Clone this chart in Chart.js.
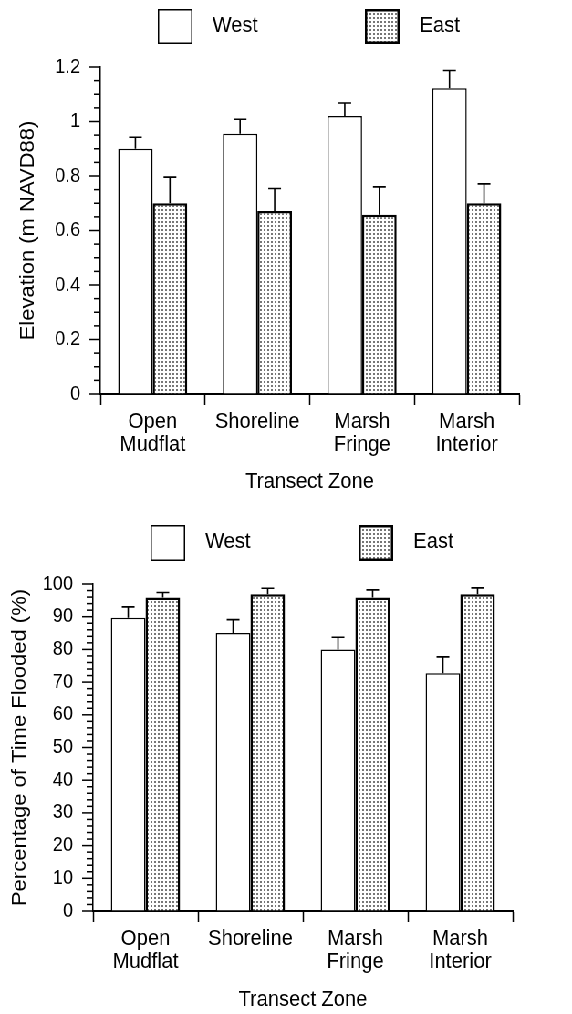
<!DOCTYPE html>
<html>
<head>
<meta charset="utf-8">
<script src="https://cdn.jsdelivr.net/npm/chart.js@4.4.1/dist/chart.umd.min.js"></script>
<style>
  html, body { margin: 0; padding: 0; background: #fff; overflow: hidden; }
  #page { width: 572px; height: 1014px; overflow: hidden; }
  /* the figure is laid out 627px wide and squeezed to the 572px page */
  #figure { width: 627px; transform: scaleX(0.9123); transform-origin: 0 0; }
  .box { position: relative; width: 627px; }
  #topBox { height: 500px; }
  #bottomBox { height: 514px; }
</style>
</head>
<body>
<div id="page"><div id="figure">
  <div class="box" id="topBox"><canvas id="elevChart"></canvas></div>
  <div class="box" id="bottomBox"><canvas id="floodChart"></canvas></div>
</div></div>
<script>
// ---- data ----
const zones = [['Open', 'Mudflat'], 'Shoreline', ['Marsh', 'Fringe'], ['Marsh', 'Interior']];
const seriesNames = ['West', 'East'];

const elevWest    = [0.90, 0.955, 1.02, 1.122];
const elevWestErr = [0.042, 0.053, 0.048, 0.065];
const elevEast    = [0.70, 0.672, 0.658, 0.70];
const elevEastErr = [0.096, 0.082, 0.102, 0.071];

const floodWest    = [89.7, 85.0, 80.0, 72.7];
const floodWestErr = [3.3, 4.1, 3.7, 5.0];
const floodEast    = [95.9, 96.9, 95.9, 96.9];
const floodEastErr = [1.5, 1.8, 2.3, 1.9];

const elevTicks = { min: 0, max: 1.2, minor: 0.05, major: 0.2 };
const floodTicks = { min: 0, max: 100, minor: 2, major: 10 };

Chart.defaults.font.family = "'Liberation Sans', Arial, sans-serif";
Chart.defaults.color = '#000';

const FONT = "'Liberation Sans', Arial, sans-serif";

// stipple fill for the East bars
function stipple(canvas) {
    const tile = document.createElement('canvas');
    tile.width = 4; tile.height = 4;
    const g = tile.getContext('2d');
    g.fillStyle = '#fff';
    g.fillRect(0, 0, 4, 4);
    g.fillStyle = '#777';
    g.fillRect(1, 1, 2, 2);
    return canvas.getContext('2d').createPattern(tile, 'repeat');
}

// ============ plugins ============
const errorBars = {
    id: 'errorBars',
    afterDatasetsDraw(chart, args, opts) {
        const ctx = chart.ctx;
        const y = chart.scales.y;
        ctx.save();
        ctx.strokeStyle = '#000';
        ctx.lineWidth = 1.6;
        chart.data.datasets.forEach((ds, i) => {
            chart.getDatasetMeta(i).data.forEach((bar, j) => {
                const top = y.getPixelForValue(ds.data[j] + ds.errors[j]);
                ctx.beginPath();
                ctx.moveTo(bar.x, bar.y);
                ctx.lineTo(bar.x, top);
                ctx.moveTo(bar.x - opts.cap / 2, top);
                ctx.lineTo(bar.x + opts.cap / 2, top);
                ctx.stroke();
            });
        });
        ctx.restore();
    }
};

// major / minor tick marks on the y axis
const yTickMarks = {
    id: 'yTickMarks',
    afterDraw(chart, args, opts) {
        const s = chart.scales.y;
        const ctx = chart.ctx;
        ctx.save();
        ctx.strokeStyle = '#000';
        ctx.lineWidth = 1.5;
        s.ticks.forEach(t => {
            const py = s.getPixelForValue(t.value);
            const len = t.label !== '' ? opts.major : opts.minor;
            ctx.beginPath();
            ctx.moveTo(s.right - len, py);
            ctx.lineTo(s.right, py);
            ctx.stroke();
        });
        ctx.restore();
    }
};

// legend: boxes with the bar styles, labels to the right
const boxLegend = {
    id: 'boxLegend',
    afterDraw(chart, args, opts) {
        const ctx = chart.ctx;
        ctx.save();
        ctx.font = `22px ${FONT}`;
        ctx.textBaseline = 'middle';
        chart.data.datasets.forEach((ds, i) => {
            const x = opts.x[i];
            const bw = ds.borderWidth;
            ctx.fillStyle = ds.backgroundColor;
            ctx.fillRect(x, opts.y, opts.w, opts.h);
            ctx.lineWidth = bw;
            ctx.strokeStyle = ds.borderColor;
            ctx.strokeRect(x + bw / 2, opts.y + bw / 2, opts.w - bw, opts.h - bw);
            ctx.fillStyle = '#000';
            ctx.fillText(ds.label, x + opts.w + opts.gap, opts.y + opts.h / 2 - 1);
        });
        ctx.restore();
    }
};

function fmtTick(v, step) {
    const k = v / step;
    if (Math.abs(k - Math.round(k)) > 1e-6) return '';
    return String(Number(v.toFixed(2)));
}

// ============ chart builder ============
function buildChart(id, cfg) {
    const canvas = document.getElementById(id);
    const dotFill = stipple(canvas);
    return new Chart(canvas, {
        type: 'bar',
        data: {
            labels: zones,
            datasets: [
                {
                    label: seriesNames[0],
                    data: cfg.west, errors: cfg.westErr,
                    backgroundColor: '#fff', borderColor: '#000', borderWidth: 1.5,
                    categoryPercentage: 0.66, barPercentage: 1,
                },
                {
                    label: seriesNames[1],
                    data: cfg.east, errors: cfg.eastErr,
                    backgroundColor: dotFill, borderColor: '#000', borderWidth: 2.5,
                    categoryPercentage: 0.66, barPercentage: 1,
                },
            ]
        },
        plugins: [errorBars, yTickMarks, boxLegend],
        options: {
            responsive: true,
            maintainAspectRatio: false,
            animation: false,
            layout: { padding: cfg.pad },
            plugins: {
                legend: { display: false },
                tooltip: { enabled: false },
                errorBars: { cap: 14 },
                yTickMarks: { major: 12, minor: 7 },
                boxLegend: cfg.legend,
            },
            scales: {
                x: {
                    offset: true,
                    grid: { offset: true, drawOnChartArea: false, tickLength: 11, tickColor: '#000', tickWidth: 1.5 },
                    border: { color: '#000', width: 2 },
                    ticks: { padding: cfg.xPad, autoSkip: false, maxRotation: 0, font: { size: 22, lineHeight: 1.05 } },
                    title: { display: true, text: 'Transect Zone', font: { size: 22 }, padding: { top: 0, bottom: cfg.xTitlePad } },
                    afterFit: s => { s.height = cfg.xHeight; },
                },
                y: {
                    min: cfg.ticks.min, max: cfg.ticks.max,
                    grid: { drawOnChartArea: false, tickLength: 12, tickColor: 'rgba(0,0,0,0)' },
                    border: { color: '#000', width: 1.5 },
                    ticks: {
                        stepSize: cfg.ticks.minor, autoSkip: false, padding: 10,
                        font: { size: 20 },
                        callback: v => fmtTick(v, cfg.ticks.major),
                    },
                    title: { display: true, text: cfg.yTitle, font: { size: 22 }, padding: { top: cfg.yTitlePad, bottom: 0 } },
                    afterFit: s => { s.width = cfg.yWidth; },
                }
            }
        }
    });
}

buildChart('elevChart', {
    west: elevWest, westErr: elevWestErr, east: elevEast, eastErr: elevEastErr,
    ticks: elevTicks,
    yTitle: 'Elevation (m NAVD88)',
    pad: { top: 67, right: 58, bottom: 0, left: 0 },
    yWidth: 110, yTitlePad: 18,
    xHeight: 106, xPad: 5, xTitlePad: 5,
    legend: { x: [173, 400], y: 9, w: 38, h: 35, gap: 22 },
});

buildChart('floodChart', {
    west: floodWest, westErr: floodWestErr, east: floodEast, eastErr: floodEastErr,
    ticks: floodTicks,
    yTitle: 'Percentage of Time Flooded (%)',
    pad: { top: 84, right: 65, bottom: 0, left: 0 },
    yWidth: 102, yTitlePad: 9,
    xHeight: 103, xPad: 5.5, xTitlePad: 1,
    legend: { x: [165, 393], y: 25, w: 38, h: 36, gap: 22 },
});
</script>
</body>
</html>
